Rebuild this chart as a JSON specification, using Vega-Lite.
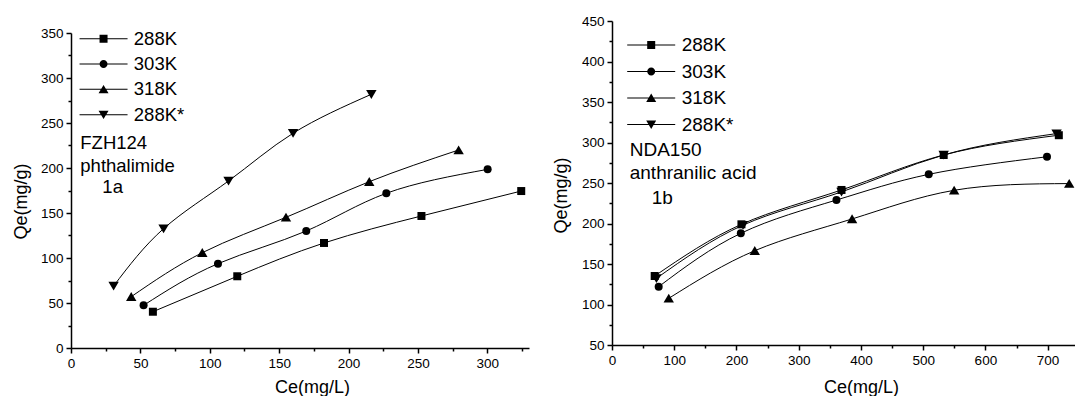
{
  "$schema": "https://vega.github.io/schema/vega-lite/v6.json",
  "autosize": {"type": "pad"},
  "padding": {"left": 12, "top": 14, "right": 0, "bottom": 0},
  "background": "white",
  "bounds": "flush",
  "spacing": 83,
  "config": {
    "font": "Liberation Sans",
    "view": {"stroke": null},
    "axis": {
      "domainColor": "black", "domainWidth": 1.5,
      "tickColor": "black", "tickWidth": 1.5,
      "labelColor": "black", "titleColor": "black",
      "labelFont": "Liberation Sans", "titleFont": "Liberation Sans",
      "labelFontSize": 13.5, "titleFontSize": 18, "titleFontWeight": "normal",
      "grid": false, "labelPadding": 3, "labelOverlap": false, "labelFlush": false
    },
    "legend": {
      "orient": "none", "title": null, "padding": 0,
      "symbolSize": 64, "symbolFillColor": "black", "symbolStrokeColor": "black",
      "symbolStrokeWidth": 0, "symbolOpacity": 1,
      "labelFont": "Liberation Sans", "labelColor": "black"
    }
  },
  "datasets": {
    "pts": [
      {"panel": "1a", "series": "288K", "ce": 59, "qe": 40.3},
      {"panel": "1a", "series": "288K", "ce": 119.8, "qe": 79.7},
      {"panel": "1a", "series": "288K", "ce": 182.3, "qe": 116.7},
      {"panel": "1a", "series": "288K", "ce": 252.5, "qe": 146.7},
      {"panel": "1a", "series": "288K", "ce": 324.4, "qe": 174.4},
      {"panel": "1a", "series": "303K", "ce": 52.3, "qe": 47.4},
      {"panel": "1a", "series": "303K", "ce": 105.9, "qe": 93.7},
      {"panel": "1a", "series": "303K", "ce": 169.5, "qe": 130},
      {"panel": "1a", "series": "303K", "ce": 227.2, "qe": 171.9},
      {"panel": "1a", "series": "303K", "ce": 300.2, "qe": 198.5},
      {"panel": "1a", "series": "318K", "ce": 43.4, "qe": 57},
      {"panel": "1a", "series": "318K", "ce": 94.6, "qe": 105.9},
      {"panel": "1a", "series": "318K", "ce": 154.9, "qe": 145.2},
      {"panel": "1a", "series": "318K", "ce": 214.9, "qe": 184.8},
      {"panel": "1a", "series": "318K", "ce": 279.3, "qe": 220},
      {"panel": "1a", "series": "288K*", "ce": 30.7, "qe": 68.9},
      {"panel": "1a", "series": "288K*", "ce": 66.7, "qe": 132.6},
      {"panel": "1a", "series": "288K*", "ce": 113.5, "qe": 185.6},
      {"panel": "1a", "series": "288K*", "ce": 160, "qe": 238.6},
      {"panel": "1a", "series": "288K*", "ce": 216.4, "qe": 281.9},
      {"panel": "1b", "series": "288K", "ce": 68.6, "qe": 135.2},
      {"panel": "1b", "series": "288K", "ce": 208, "qe": 199},
      {"panel": "1b", "series": "288K", "ce": 368.8, "qe": 241.4},
      {"panel": "1b", "series": "288K", "ce": 533, "qe": 284.6},
      {"panel": "1b", "series": "288K", "ce": 718, "qe": 309},
      {"panel": "1b", "series": "303K", "ce": 75, "qe": 122},
      {"panel": "1b", "series": "303K", "ce": 207, "qe": 187.9},
      {"panel": "1b", "series": "303K", "ce": 360.7, "qe": 229},
      {"panel": "1b", "series": "303K", "ce": 509, "qe": 260.7},
      {"panel": "1b", "series": "303K", "ce": 699, "qe": 282.4},
      {"panel": "1b", "series": "318K", "ce": 91.2, "qe": 107.6},
      {"panel": "1b", "series": "318K", "ce": 229.4, "qe": 166.4},
      {"panel": "1b", "series": "318K", "ce": 385.8, "qe": 205.6},
      {"panel": "1b", "series": "318K", "ce": 549.8, "qe": 241},
      {"panel": "1b", "series": "318K", "ce": 734.7, "qe": 249.3},
      {"panel": "1b", "series": "288K*", "ce": 71.4, "qe": 132.3},
      {"panel": "1b", "series": "288K*", "ce": 210.6, "qe": 198},
      {"panel": "1b", "series": "288K*", "ce": 368.8, "qe": 239},
      {"panel": "1b", "series": "288K*", "ce": 533, "qe": 284.6},
      {"panel": "1b", "series": "288K*", "ce": 714.4, "qe": 311}
    ],
    "notes": [
      {"panel": "1a", "ce": 6.7, "qe": 228, "label": "FZH124"},
      {"panel": "1a", "ce": 6.7, "qe": 202, "label": "phthalimide"},
      {"panel": "1a", "ce": 22.6, "qe": 178.9, "label": "1a"},
      {"panel": "1b", "ce": 28.5, "qe": 290.7, "label": "NDA150"},
      {"panel": "1b", "ce": 28.5, "qe": 262.3, "label": "anthranilic acid"},
      {"panel": "1b", "ce": 63.8, "qe": 231.5, "label": "1b"}
    ]
  },
  "hconcat": [
    {
      "width": 458,
      "height": 327,
      "encoding": {
        "x": {"field": "ce", "type": "quantitative",
          "scale": {"domain": [0, 330], "nice": false, "zero": false},
          "axis": {
            "title": "Ce(mg/L)",
            "values": [0, 25, 50, 75, 100, 125, 150, 175, 200, 225, 250, 275, 300, 325],
            "labelExpr": "datum.value % 50 === 0 ? datum.label : ''",
            "tickSize": {"condition": {"test": "datum.value % 50 === 0", "value": 5}, "value": 3},
            "titleX": 241, "titleY": 39, "titleBaseline": "middle"
          }},
        "y": {"field": "qe", "type": "quantitative",
          "scale": {"domain": [0, 350], "range": [327, 12], "nice": false, "zero": false},
          "axis": {
            "title": "Qe(mg/g)",
            "values": [0, 25, 50, 75, 100, 125, 150, 175, 200, 225, 250, 275, 300, 325, 350],
            "labelExpr": "datum.value % 50 === 0 ? datum.label : ''",
            "tickSize": {"condition": {"test": "datum.value % 50 === 0", "value": 5}, "value": 3},
            "titleX": -50, "titleY": 180, "titleBaseline": "middle"
          }}
      },
      "layer": [
        {
          "data": {"name": "pts"},
          "transform": [{"filter": "datum.panel === '1a'"}],
          "mark": {"type": "line", "color": "black", "strokeWidth": 1, "interpolate": "natural"},
          "encoding": {"detail": {"field": "series"}}
        },
        {
          "data": {"name": "pts"},
          "transform": [{"filter": "datum.panel === '1a'"}],
          "mark": {"type": "point", "filled": true, "color": "black", "opacity": 1, "size": 64},
          "encoding": {
            "shape": {"field": "series", "type": "nominal",
              "scale": {"domain": ["288K", "303K", "318K", "288K*"],
                "range": ["M-1,-1H1V1H-1Z", "circle", "M0,-1.15L1.3,1.05L-1.3,1.05Z", "M-1.3,-1.05L1.3,-1.05L0,1.15Z"]},
              "legend": null}
          }
        },
        {
          "data": {"name": "pts"},
          "transform": [{"filter": "false"}],
          "mark": {"type": "point", "filled": true, "color": "black", "opacity": 1},
          "encoding": {
            "x": {"field": "ce", "type": "quantitative"},
            "y": {"field": "qe", "type": "quantitative"},
            "shape": {"field": "series", "type": "nominal",
              "scale": {"domain": ["288K", "303K", "318K", "288K*"],
                "range": [
                  "M-6,-0.125H6V0.125H-6Z M-1,-1H1V1H-1Z",
                  "M-6,-0.125H6V0.125H-6Z M-1,0A1,1 0 1,1 1,0A1,1 0 1,1 -1,0Z",
                  "M-6,-0.125H6V0.125H-6Z M0,-1.1L1.25,1L-1.25,1Z",
                  "M-6,-0.125H6V0.125H-6Z M-1.25,-1L1.25,-1L0,1.1Z"
                ]},
              "legend": {"legendX": 23.3, "legendY": 8.5, "labelFontSize": 18.5, "labelOffset": 21, "rowPadding": 6.3}
            }
          }
        },
        {
          "data": {"name": "notes"},
          "transform": [{"filter": "datum.panel === '1a'"}],
          "mark": {"type": "text", "align": "left", "baseline": "middle", "fontSize": 18.5, "color": "black", "font": "Liberation Sans"},
          "encoding": {"text": {"field": "label"}}
        }
      ],
      "resolve": {"scale": {"shape": "independent"}, "legend": {"shape": "independent"}}
    },
    {
      "width": 463,
      "height": 324,
      "encoding": {
        "x": {"field": "ce", "type": "quantitative",
          "scale": {"domain": [0, 744], "nice": false, "zero": false},
          "axis": {
            "title": "Ce(mg/L)",
            "values": [0, 50, 100, 150, 200, 250, 300, 350, 400, 450, 500, 550, 600, 650, 700],
            "labelExpr": "datum.value % 100 === 0 ? datum.label : ''",
            "tickSize": {"condition": {"test": "datum.value % 100 === 0", "value": 5}, "value": 3},
            "titleX": 249, "titleY": 42, "titleBaseline": "middle"
          }},
        "y": {"field": "qe", "type": "quantitative",
          "scale": {"domain": [50, 450], "nice": false, "zero": false},
          "axis": {
            "title": "Qe(mg/g)",
            "values": [50, 75, 100, 125, 150, 175, 200, 225, 250, 275, 300, 325, 350, 375, 400, 425, 450],
            "labelExpr": "datum.value % 50 === 0 ? datum.label : ''",
            "tickSize": {"condition": {"test": "datum.value % 50 === 0", "value": 5}, "value": 3},
            "titleX": -51, "titleY": 174, "titleBaseline": "middle"
          }}
      },
      "layer": [
        {
          "data": {"name": "pts"},
          "transform": [{"filter": "datum.panel === '1b'"}],
          "mark": {"type": "line", "color": "black", "strokeWidth": 1, "interpolate": "natural"},
          "encoding": {"detail": {"field": "series"}}
        },
        {
          "data": {"name": "pts"},
          "transform": [{"filter": "datum.panel === '1b'"}],
          "mark": {"type": "point", "filled": true, "color": "black", "opacity": 1, "size": 64},
          "encoding": {
            "shape": {"field": "series", "type": "nominal",
              "scale": {"domain": ["288K", "303K", "318K", "288K*"],
                "range": ["M-1,-1H1V1H-1Z", "circle", "M0,-1.15L1.3,1.05L-1.3,1.05Z", "M-1.3,-1.05L1.3,-1.05L0,1.15Z"]},
              "legend": null}
          }
        },
        {
          "data": {"name": "pts"},
          "transform": [{"filter": "false"}],
          "mark": {"type": "point", "filled": true, "color": "black", "opacity": 1},
          "encoding": {
            "x": {"field": "ce", "type": "quantitative"},
            "y": {"field": "qe", "type": "quantitative"},
            "shape": {"field": "series", "type": "nominal",
              "scale": {"domain": ["288K", "303K", "318K", "288K*"],
                "range": [
                  "M-6,-0.125H6V0.125H-6Z M-1,-1H1V1H-1Z",
                  "M-6,-0.125H6V0.125H-6Z M-1,0A1,1 0 1,1 1,0A1,1 0 1,1 -1,0Z",
                  "M-6,-0.125H6V0.125H-6Z M0,-1.1L1.25,1L-1.25,1Z",
                  "M-6,-0.125H6V0.125H-6Z M-1.25,-1L1.25,-1L0,1.1Z"
                ]},
              "legend": {"legendX": 29.7, "legendY": 14.5, "labelFontSize": 19, "labelOffset": 21, "rowPadding": 6.5}
            }
          }
        },
        {
          "data": {"name": "notes"},
          "transform": [{"filter": "datum.panel === '1b'"}],
          "mark": {"type": "text", "align": "left", "baseline": "middle", "fontSize": 19, "color": "black", "font": "Liberation Sans"},
          "encoding": {"text": {"field": "label"}}
        }
      ],
      "resolve": {"scale": {"shape": "independent"}, "legend": {"shape": "independent"}}
    }
  ],
  "resolve": {"scale": {"shape": "independent"}, "legend": {"shape": "independent"}}
}
